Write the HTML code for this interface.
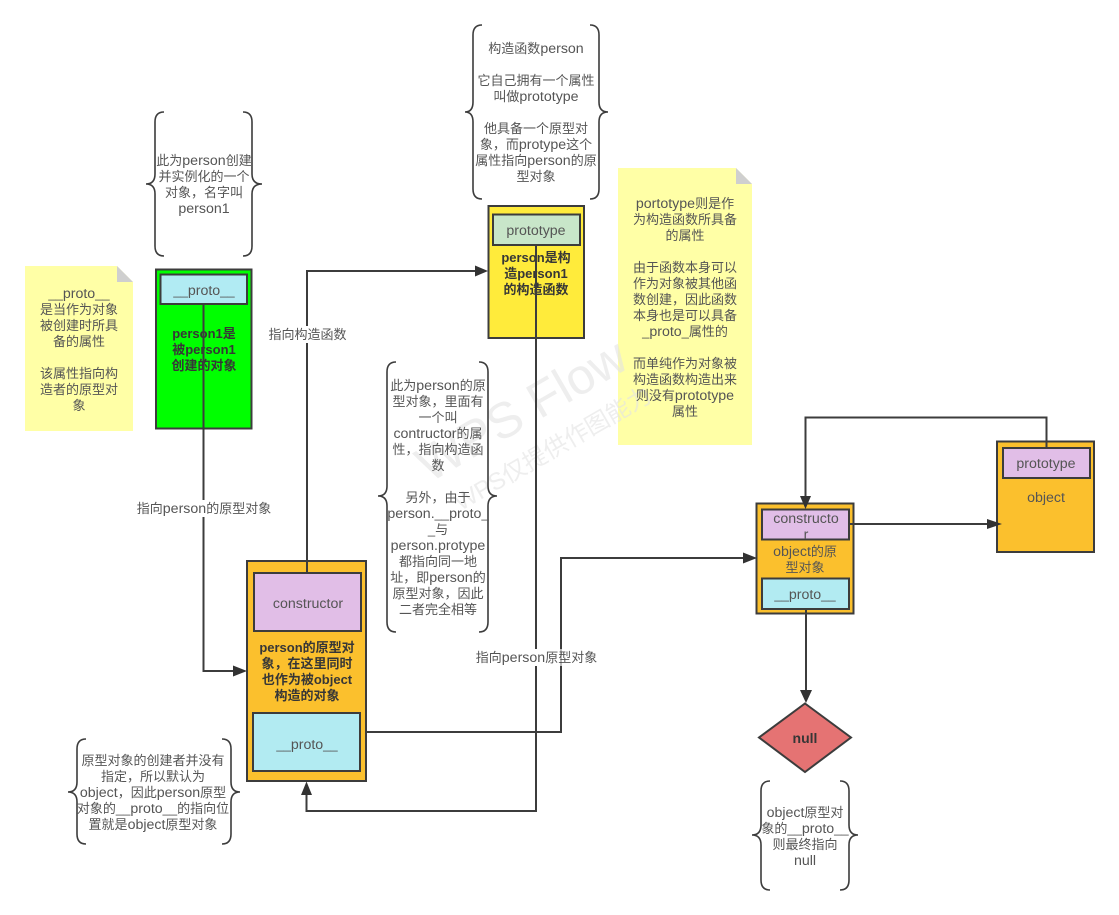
<!DOCTYPE html>
<html><head><meta charset="utf-8"><style>
html,body{margin:0;padding:0;background:#fff}
svg{display:block}
text{font-family:"Liberation Sans","Noto Sans CJK SC",sans-serif;font-size:13px;fill:#555;text-anchor:middle}
.e{font-size:14.2px}
.b{font-weight:bold;fill:#363636;font-size:13px}
.l{fill:none;stroke:#3c3c3c;stroke-width:2}
.br{fill:none;stroke:#3c3c3c;stroke-width:1.6}
.s{stroke:#3c3c3c;stroke-width:2}
.a{fill:#323232}
</style></head><body>
<svg width="1119" height="915" viewBox="0 0 1119 915" xmlns="http://www.w3.org/2000/svg">
<rect width="1119" height="915" fill="#fff"/>

<!-- notes -->
<path d="M25 266H117L133 282V431H25Z" fill="#ffffa6"/><path d="M117 266L133 282H117Z" fill="#cfcfcf"/>
<path d="M618 168H736L752 184V445H618Z" fill="#ffffa6"/><path d="M736 168L752 184H736Z" fill="#cfcfcf"/>
<g transform="translate(530 425) rotate(-30)" style="opacity:.6">
<text x="0" y="0" style="font-size:50px;fill:#e3e3e3">WPS Flow</text>
<text x="8" y="40" style="font-size:24px;fill:#e3e3e3">WPS仅提供作图能力</text>
</g>
<text x="79" y="298">__<tspan class="e">proto</tspan>__</text><text x="79" y="314">是当作为对象</text><text x="79" y="330">被创建时所具</text><text x="79" y="346">备的属性</text>
<text x="79" y="378">该属性指向构</text><text x="79" y="394">造者的原型对</text><text x="79" y="410">象</text>
<text x="685" y="208"><tspan class="e">portotype</tspan>则是作</text><text x="685" y="224">为构造函数所具备</text><text x="685" y="240">的属性</text>
<text x="685" y="272">由于函数本身可以</text><text x="685" y="288">作为对象被其他函</text><text x="685" y="304">数创建，因此函数</text><text x="685" y="320">本身也是可以具备</text><text x="685" y="336">_<tspan class="e">proto</tspan>_属性的</text>
<text x="685" y="368">而单纯作为对象被</text><text x="685" y="384">构造函数构造出来</text><text x="685" y="400">则没有<tspan class="e">prototype</tspan></text><text x="685" y="416">属性</text>

<!-- boxes -->
<rect x="156" y="269.500" width="95.500" height="159" fill="#00ff00" class="s"/>
<rect x="160.500" y="274.500" width="86.500" height="29.500" fill="#b1ebf3" class="s"/>
<rect x="488.500" y="206" width="95.500" height="132" fill="#ffeb3b" class="s"/>
<rect x="493" y="214.500" width="87" height="30.500" fill="#c8e6c9" class="s"/>
<rect x="247" y="561" width="119" height="220" fill="#fbc02d" class="s"/>
<rect x="254" y="573" width="107" height="58" fill="#e1bee7" class="s"/>
<rect x="253" y="713" width="107" height="58" fill="#b2ebf2" class="s"/>
<rect x="756.500" y="503.500" width="97" height="110" fill="#fbc02d" class="s"/>
<rect x="762" y="509.500" width="87" height="30" fill="#e1bee7" class="s"/>
<rect x="762" y="578.500" width="87" height="30.500" fill="#b2ebf2" class="s"/>
<rect x="997" y="441.500" width="97" height="110.500" fill="#fbc02d" class="s"/>
<rect x="1003" y="448" width="87" height="30" fill="#e1bee7" class="s"/>
<path d="M805 703.500L851 737.500L805 772L759 737.500Z" fill="#e57373" class="s"/>

<!-- box text -->
<text x="204" y="295">__<tspan class="e">proto</tspan>__</text>
<text class="b" x="204" y="338">person1是</text><text class="b" x="204" y="354">被person1</text><text class="b" x="204" y="370">创建的对象</text>
<text x="536" y="235"><tspan class="e">prototype</tspan></text>
<text class="b" x="536" y="262">person是构</text><text class="b" x="536" y="278">造person1</text><text class="b" x="536" y="294">的构造函数</text>
<text x="308" y="608"><tspan class="e">constructor</tspan></text>
<text class="b" x="307" y="652">person的原型对</text><text class="b" x="307" y="668">象，在这里同时</text><text class="b" x="307" y="684">也作为被object</text><text class="b" x="307" y="700">构造的对象</text>
<text x="307" y="749">__<tspan class="e">proto</tspan>__</text>
<text x="806" y="523"><tspan class="e">constructo</tspan></text><text x="806" y="539"><tspan class="e">r</tspan></text>
<text x="805" y="556"><tspan class="e">object</tspan>的原</text><text x="805" y="572">型对象</text>
<text x="805" y="599">__<tspan class="e">proto</tspan>__</text>
<text x="1046" y="468"><tspan class="e">prototype</tspan></text>
<text x="1046" y="502"><tspan class="e">object</tspan></text>
<text class="b" x="805" y="743" style="font-size:14px">null</text>

<!-- connectors -->
<path class="l" d="M203.500 304V671H236"/><path class="a" d="M247 671L233 665.500V676.500Z"/>
<path class="l" d="M307 573V271H480"/><path class="a" d="M488 271L475 265.500V276.500Z"/>
<path class="l" d="M366 732H561V558H746"/><path class="a" d="M757 558L743 552.500V563.500Z"/>
<path class="l" d="M536 245V811H306.500V792"/><path class="a" d="M306.500 781.500L301 795H312Z"/>
<path class="l" d="M1046.500 448V417.500H805.500V500"/><path class="a" d="M805.500 509L800 496H811Z"/>
<path class="l" d="M849 524H990"/><path class="a" d="M1002 524L987 519V529Z"/>
<path class="l" d="M806 609V695"/><path class="a" d="M806 703L800 690H812Z"/>

<!-- braces -->
<path class="br" d="M164 112Q155 112 155 122V174Q155 184 146 184Q155 184 155 194V246Q155 256 164 256"/>
<path class="br" d="M243 112Q252 112 252 122V174Q252 184 262 184Q252 184 252 194V246Q252 256 243 256"/>
<path class="br" d="M482 25Q473 25 473 35V102Q473 112 465 112Q473 112 473 122V189Q473 199 482 199"/>
<path class="br" d="M590 25Q599 25 599 35V102Q599 112 608 112Q599 112 599 122V189Q599 199 590 199"/>
<path class="br" d="M396 362Q387 362 387 372V486Q387 496 378 496Q387 496 387 506V622Q387 632 396 632"/>
<path class="br" d="M479 362Q488 362 488 372V486Q488 496 497 496Q488 496 488 506V622Q488 632 479 632"/>
<path class="br" d="M86 739Q77 739 77 749V782Q77 792 68 792Q77 792 77 802V834Q77 844 86 844"/>
<path class="br" d="M222 739Q231 739 231 749V782Q231 792 240 792Q231 792 231 802V834Q231 844 222 844"/>
<path class="br" d="M770 781Q761 781 761 791V825Q761 835 752 835Q761 835 761 845V880Q761 890 770 890"/>
<path class="br" d="M840 781Q849 781 849 791V825Q849 835 858 835Q849 835 849 845V880Q849 890 840 890"/>

<!-- connector labels -->
<rect x="268" y="326" width="79" height="17" fill="#fff"/><text x="307.500" y="339">指向构造函数</text>
<rect x="137" y="500" width="134" height="17" fill="#fff"/><text x="204" y="513">指向<tspan class="e">person</tspan>的原型对象</text>
<rect x="476" y="649" width="121" height="17" fill="#fff"/><text x="536.500" y="662">指向<tspan class="e">person</tspan>原型对象</text>
<path d="M561 649V666" stroke="#3c3c3c" stroke-width="1" opacity=".7"/>

<!-- brace text -->
<text x="204" y="165">此为<tspan class="e">person</tspan>创建</text><text x="204" y="181">并实例化的一个</text><text x="204" y="197">对象，名字叫</text><text x="204" y="213"><tspan class="e">person1</tspan></text>
<text x="536" y="53">构造函数<tspan class="e">person</tspan></text><text x="536" y="85">它自己拥有一个属性</text><text x="536" y="101">叫做<tspan class="e">prototype</tspan></text><text x="536" y="133">他具备一个原型对</text><text x="536" y="149">象，而<tspan class="e">protype</tspan>这个</text><text x="536" y="165">属性指向<tspan class="e">person</tspan>的原</text><text x="536" y="181">型对象</text>
<text x="438" y="390">此为<tspan class="e">person</tspan>的原</text><text x="438" y="406">型对象，里面有</text><text x="438" y="422">一个叫</text><text x="438" y="438"><tspan class="e">contructor</tspan>的属</text><text x="438" y="454">性，指向构造函</text><text x="438" y="470">数</text>
<text x="438" y="502">另外，由于</text><text x="438" y="518"><tspan class="e">person.</tspan>__<tspan class="e">proto</tspan>_</text><text x="438" y="534">_与</text><text x="438" y="550"><tspan class="e">person.protype</tspan></text><text x="438" y="566">都指向同一地</text><text x="438" y="582">址，即<tspan class="e">person</tspan>的</text><text x="438" y="598">原型对象，因此</text><text x="438" y="614">二者完全相等</text>
<text x="153" y="765">原型对象的创建者并没有</text><text x="153" y="781">指定，所以默认为</text><text x="153" y="797"><tspan class="e">object</tspan>，因此<tspan class="e">person</tspan>原型</text><text x="153" y="813">对象的__<tspan class="e">proto</tspan>__的指向位</text><text x="153" y="829">置就是<tspan class="e">object</tspan>原型对象</text>
<text x="805" y="817"><tspan class="e">object</tspan>原型对</text><text x="805" y="833">象的__<tspan class="e">proto</tspan>__</text><text x="805" y="849">则最终指向</text><text x="805" y="865"><tspan class="e">null</tspan></text>
</svg>
</body></html>
